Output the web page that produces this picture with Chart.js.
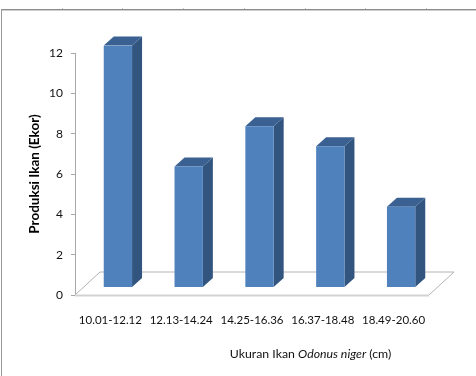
<!DOCTYPE html>
<html>
<head>
<meta charset="utf-8">
<script src="https://cdn.jsdelivr.net/npm/chart.js@4"></script>
<style>
html,body{margin:0;padding:0;background:#fff;}
#wrap{position:absolute;left:0;top:0;width:476px;height:376px;}
</style>
</head>
<body>
<div id="wrap"><canvas id="c" width="476" height="376"></canvas></div>
<script>
const categories = ['10.01-12.12','12.13-14.24','14.25-16.36','16.37-18.48','18.49-20.60'];
const values = [12,6,8,7,4];
const yTicks = [0,2,4,6,8,10,12];
const yTitle = 'Produksi Ikan (Ekor)';
const xTitleParts = [['Ukuran Ikan ','normal'],['Odonus niger','italic'],[' (cm)','normal']];
const FONT = 'Lato, "Open Sans", sans-serif';
const AXIS = '#a8a8a8';
const FRONT = '#4f81bd', SIDE = '#32557f', TOP = '#3a6191';
const PLANE = {barDx:7.5, barDy:-7.5, sideDx:10, sideDy:-9, floorDx:25, floorDy:-23};

const frame3d = {
  id:'frame3d',
  beforeDraw(chart){
    const c = chart.ctx;
    c.save();
    c.fillStyle='#fff'; c.fillRect(0,0,chart.width,chart.height);
    c.fillStyle='#8c8c8c'; c.fillRect(1,9,chart.width-1,1);
    c.fillStyle='#cfcfcf'; c.fillRect(1,10,chart.width-1,1);
    c.fillStyle='#9a9a9a'; c.fillRect(1,9,1,chart.height-9);
    c.fillStyle='#c8c8c8';
    [62,122,183,244,305,365,426].forEach(x=>c.fillRect(x,8,1,1));
    c.restore();
  },
  beforeDatasetsDraw(chart){
    const c = chart.ctx, a = chart.chartArea;
    c.save();
    c.strokeStyle='#b4b4b4'; c.lineWidth=1;
    c.beginPath();
    c.moveTo(a.left,a.bottom);
    c.lineTo(a.left+PLANE.floorDx,a.bottom+PLANE.floorDy);
    c.lineTo(a.right+PLANE.floorDx,a.bottom+PLANE.floorDy);
    c.lineTo(a.right,a.bottom);
    c.stroke();
    c.strokeStyle='#d2d2d2'; c.lineWidth=2;
    c.beginPath();
    c.moveTo(a.left,a.bottom+0.5);
    c.lineTo(a.right,a.bottom+0.5);
    c.stroke();
    c.restore();
  },
  beforeDatasetDraw(chart,args){
    const c = chart.ctx;
    c.save();
    c.translate(PLANE.barDx,PLANE.barDy);
    chart.getDatasetMeta(args.index).data.forEach(b=>{
      const l=b.x-b.width/2, r=b.x+b.width/2, t=b.y, bot=b.base;
      c.fillStyle=SIDE;
      c.beginPath();
      c.moveTo(r,t);c.lineTo(r+PLANE.sideDx,t+PLANE.sideDy);
      c.lineTo(r+PLANE.sideDx,bot+PLANE.sideDy);c.lineTo(r,bot);c.closePath();c.fill();
      c.fillStyle=TOP;
      c.beginPath();
      c.moveTo(l,t);c.lineTo(l+PLANE.sideDx,t+PLANE.sideDy);
      c.lineTo(r+PLANE.sideDx,t+PLANE.sideDy);c.lineTo(r,t);c.closePath();c.fill();
    });
  },
  afterDatasetDraw(chart){ chart.ctx.restore(); },
  afterDraw(chart){
    const c = chart.ctx;
    c.save();
    c.fillStyle='#111';
    c.textBaseline='middle';
    c.textAlign='left';
    const font = s => s+' 12.3px '+FONT;
    let w=0;
    xTitleParts.forEach(p=>{c.font=font(p[1]);w+=c.measureText(p[0]).width;});
    let x=310.5-w/2;
    xTitleParts.forEach(p=>{c.font=font(p[1]);c.fillText(p[0],x,354);x+=c.measureText(p[0]).width;});
    c.restore();
  }
};

new Chart(document.getElementById('c'),{
  type:'bar',
  data:{labels:categories,datasets:[{data:values,backgroundColor:FRONT,borderWidth:0,barPercentage:0.4,categoryPercentage:1}]},
  plugins:[frame3d],
  options:{
    responsive:false,animation:false,
    layout:{padding:{top:53,right:47,left:27,bottom:0}},
    plugins:{legend:{display:false},tooltip:{enabled:false},title:{display:false}},
    scales:{
      x:{
        afterFit(s){s.height=81;},
        grid:{display:false},border:{display:false},
        ticks:{color:'#111',font:{family:FONT,size:11.5},padding:10,maxRotation:0,autoSkip:false}
      },
      y:{
        min:0,max:12,
        afterFit(s){s.width=48;},
        afterBuildTicks(s){s.ticks=yTicks.map(v=>({value:v}));},
        grid:{drawOnChartArea:false,color:AXIS,tickLength:4},
        border:{color:AXIS,width:1},
        ticks:{color:'#111',font:{family:FONT,size:12},padding:8},
        title:{display:true,text:yTitle,color:'#000',font:{family:FONT,size:13.5,weight:'bold'},padding:{top:0,bottom:0}}
      }
    }
  }
});
</script>
</body>
</html>
